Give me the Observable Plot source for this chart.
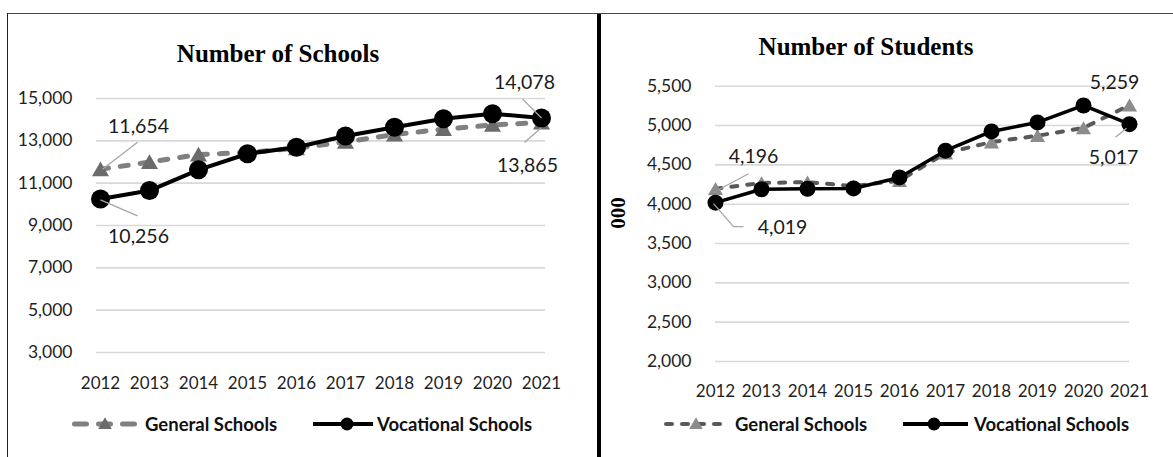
<!DOCTYPE html>
<html>
<head>
<meta charset="utf-8">
<script src="https://cdn.jsdelivr.net/npm/d3@7"></script>
<script src="https://cdn.jsdelivr.net/npm/@observablehq/plot@0.6"></script>
<style>
  body { margin: 0; background: #fff; }
  #wrap { position: relative; width: 1173px; height: 457px; overflow: hidden; background: #fff; font-family: Lato, sans-serif; }
  .abs { position: absolute; }
  .title { position: absolute; font-family: "Liberation Serif", "Times New Roman", serif; font-weight: bold; font-size: 25px; color: #000; transform: translate(-50%, -50%); white-space: nowrap; }
  .ylab { position: absolute; font-family: "Liberation Serif", "Times New Roman", serif; font-weight: bold; font-size: 21px; color: #000; transform: translate(-50%, -50%) rotate(-90deg); white-space: nowrap; }
  .legtext { position: absolute; font-family: Lato, sans-serif; font-weight: bold; font-size: 18.5px; color: #111; transform: translateY(-50%); white-space: nowrap; }
  .chart { position: absolute; top: 0; }
</style>
</head>
<body>
<div id="wrap"></div>
<script>
// ---------------- data ----------------
const years = [2012, 2013, 2014, 2015, 2016, 2017, 2018, 2019, 2020, 2021];
const seriesNames = ["General Schools", "Vocational Schools"];
const chartTitles = ["Number of Schools", "Number of Students"];
const studentsAxisLabel = "000";

const schoolsGeneral    = [11654, 12000, 12350, 12450, 12650, 12950, 13300, 13550, 13750, 13865];
const schoolsVocational = [10256, 10650, 11630, 12390, 12700, 13230, 13640, 14040, 14280, 14078];
const schoolsTicks      = [3000, 5000, 7000, 9000, 11000, 13000, 15000];

const studentsGeneral    = [4196, 4270, 4280, 4230, 4300, 4650, 4790, 4870, 4970, 5259];
const studentsVocational = [4019, 4190, 4195, 4200, 4340, 4680, 4925, 5040, 5255, 5017];
const studentsTicks      = [2000, 2500, 3000, 3500, 4000, 4500, 5000, 5500];

// ---------------- helpers ----------------
const fmt = d3.format(",");
const wrap = d3.select("#wrap");

// leader line drawn as a custom symbol (pixel offsets from the data point)
function leaderSymbol(pts) {
  return {
    draw(context) {
      context.moveTo(pts[0][0], pts[0][1]);
      for (let i = 1; i < pts.length; i++) context.lineTo(pts[i][0], pts[i][1]);
    }
  };
}

function makeChart(cfg) {
  const gen = years.map((year, i) => ({year, value: cfg.gen[i]}));
  const voc = years.map((year, i) => ({year, value: cfg.voc[i]}));
  const series = {gen, voc};
  const labelMarks = [];
  for (const L of cfg.labels) {
    const d = [series[L.series][L.index]];
    labelMarks.push(Plot.text(d, {x: "year", y: "value", text: (p) => fmt(p.value), dx: L.dx, dy: L.dy, fontSize: 19.5, fill: "#1a1a1a"}));
    if (L.leader) labelMarks.push(Plot.dot(d, {x: "year", y: "value", symbol: leaderSymbol(L.leader), r: 5, fill: "none", stroke: "#a6a6a6", strokeWidth: 1.3}));
  }
  const plot = Plot.plot({
    width: cfg.width,
    height: cfg.height,
    marginLeft: cfg.mL, marginRight: cfg.mR, marginTop: cfg.mT, marginBottom: cfg.mB,
    style: {fontFamily: "Lato, sans-serif", fontSize: "17px", color: "#1f1f1f", background: "transparent", overflow: "visible"},
    x: {type: "point", domain: years, padding: 0, label: null},
    y: {domain: [cfg.ticks[0], cfg.ticks[cfg.ticks.length - 1]], label: null},
    marks: [
      Plot.ruleY(cfg.ticks, {stroke: "#d9d9d9", strokeWidth: 1.6}),
      Plot.axisY({ticks: cfg.ticks, tickFormat: fmt, tickSize: 0, tickPadding: 24, fontSize: 17.5, label: null}),
      Plot.axisX({tickSize: 0, tickPadding: cfg.xPad, tickFormat: (d) => String(d), fontSize: 17, label: null}),
      Plot.line(gen, {x: "year", y: "value", stroke: cfg.genLine, strokeWidth: cfg.genW, strokeDasharray: cfg.dash, strokeLinecap: "round"}),
      Plot.dot(gen, {x: "year", y: "value", symbol: "triangle", r: cfg.triR, fill: cfg.triFill, dy: 2}),
      Plot.line(voc, {x: "year", y: "value", stroke: "#000", strokeWidth: cfg.vocW}),
      Plot.dot(voc, {x: "year", y: "value", r: cfg.dotR, fill: "#000"}),
      ...labelMarks
    ]
  });
  plot.classList.add("chart");
  plot.style.left = cfg.left + "px";
  wrap.node().appendChild(plot);
}

// ---------------- frame ----------------
wrap.append("div").attr("class", "abs").style("left", "7px").style("top", "13px").style("width", "1166px").style("height", "0px").style("border-top", "1.5px solid #4a4a4a");
wrap.append("div").attr("class", "abs").style("left", "7px").style("top", "13px").style("width", "0px").style("height", "444px").style("border-left", "1.5px solid #222");
wrap.append("div").attr("class", "abs").style("left", "597px").style("top", "14px").style("width", "4px").style("height", "443px").style("background", "#000");

// ---------------- charts ----------------
makeChart({
  left: 0, width: 598, height: 400, mL: 96, mR: 53, mT: 98, mB: 48, xPad: 24,
  gen: schoolsGeneral, voc: schoolsVocational, ticks: schoolsTicks,
  genLine: "#808080", genW: 5, dash: "8,12", triR: 6.3, triFill: "#6b6b6b", vocW: 4, dotR: 9.5,
  labels: [
    {series: "gen", index: 0, dx: 38, dy: -43, leader: [[2, 0], [37, -27]]},
    {series: "voc", index: 0, dx: 38, dy: 38, leader: [[0, 1], [37, 17]]},
    {series: "voc", index: 9, dx: -17, dy: -35, leader: [[-19, -19], [0, 0]]},
    {series: "gen", index: 9, dx: -14, dy: 43, leader: [[0, 5], [-17, 20]]}
  ]
});

makeChart({
  left: 600, width: 573, height: 400, mL: 115, mR: 44, mT: 85.7, mB: 39, xPad: 23,
  gen: studentsGeneral, voc: studentsVocational, ticks: studentsTicks,
  genLine: "#595959", genW: 4, dash: "6,10", triR: 5.6, triFill: "#8c8c8c", vocW: 3.5, dotR: 8,
  labels: [
    {series: "gen", index: 0, dx: 38, dy: -32, leader: [[3, 1], [33, -15]]},
    {series: "voc", index: 0, dx: 67, dy: 25, leader: [[-2, 1], [18, 24], [28, 24]]},
    {series: "gen", index: 9, dx: -15, dy: -22},
    {series: "voc", index: 9, dx: -16, dy: 34, leader: [[-3, 4], [-14, 13]]}
  ]
});

// ---------------- titles ----------------
wrap.append("div").attr("class", "title").style("left", "278px").style("top", "54px").text(chartTitles[0]);
wrap.append("div").attr("class", "title").style("left", "866px").style("top", "47px").text(chartTitles[1]);
wrap.append("div").attr("class", "ylab").style("left", "618px").style("top", "213px").text(studentsAxisLabel);

// ---------------- legends ----------------
function legend(spec) {
  const y = 424;
  const svg = wrap.append("svg").attr("class", "abs").style("left", "0px").style("top", (y - 12) + "px").attr("width", 1173).attr("height", 24).style("overflow", "visible");
  // general
  svg.append("line").attr("x1", spec.g0).attr("x2", spec.g1).attr("y1", 12).attr("y2", 12)
    .attr("stroke", spec.genLine).attr("stroke-width", spec.genW).attr("stroke-dasharray", spec.dash).attr("stroke-linecap", "round");
  svg.append("path").attr("d", d3.symbol(d3.symbolTriangle, 80)()).attr("transform", `translate(${spec.gm},13)`).attr("fill", spec.triFill);
  // vocational
  svg.append("line").attr("x1", spec.v0).attr("x2", spec.v1).attr("y1", 12).attr("y2", 12).attr("stroke", "#000").attr("stroke-width", 4);
  svg.append("circle").attr("cx", spec.vm).attr("cy", 12).attr("r", 6.5).attr("fill", "#000");
  wrap.append("div").attr("class", "legtext").style("left", spec.gt + "px").style("top", y + "px").text(seriesNames[0]);
  wrap.append("div").attr("class", "legtext").style("left", spec.vt + "px").style("top", y + "px").text(seriesNames[1]);
}
legend({g0: 74.5, g1: 135, gm: 105, gt: 145, v0: 313, v1: 373, vm: 347, vt: 377, genLine: "#808080", genW: 5, dash: "12,12", triFill: "#6b6b6b"});
legend({g0: 666, g1: 726, gm: 696, gt: 735, v0: 903, v1: 968, vm: 934, vt: 974, genLine: "#595959", genW: 4, dash: "6,10", triFill: "#8c8c8c"});
</script>
</body>
</html>
